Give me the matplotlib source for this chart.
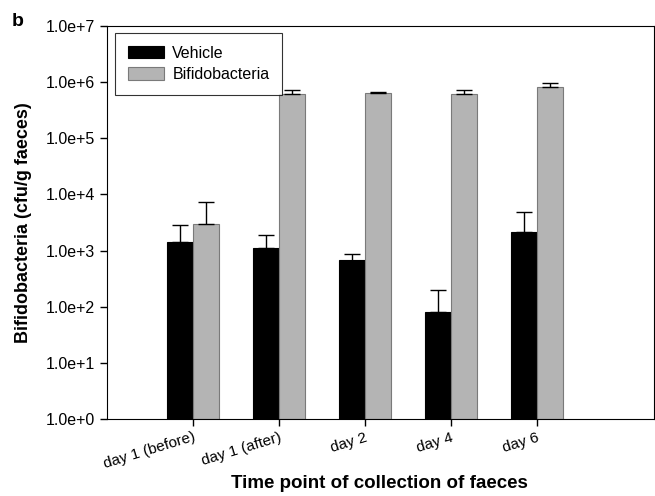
import numpy as np
import matplotlib.pyplot as plt

plt.rcParams['font.family'] = ['Liberation Sans', 'DejaVu Sans']

days = ['day 1 (before)', 'day 1 (after)', 'day 2', 'day 4', 'day 6']
vehicle = np.array([1430, 1090, 665, 81, 2170])
vehicle_top = np.array([2900, 1900, 885, 202, 4950])
bifido = np.array([2960, 605000, 640000, 620000, 805000])
bifido_top = np.array([7200, 733000, 655000, 733000, 948000])

fig = plt.figure(figsize=(6.55, 4.96), dpi=100)
ax = fig.add_axes([0.163, 0.155, 0.8355, 0.793])

x = np.arange(len(days))
w = 0.3
ax.bar(x - w/2, vehicle, w, bottom=1, color='black', edgecolor='black', linewidth=0.8,
       label='Vehicle')
ax.bar(x + w/2, bifido, w, bottom=1, color='#b4b4b4', edgecolor='#7a7a7a', linewidth=0.8,
       label='Bifidobacteria')
ax.errorbar(x - w/2, vehicle, yerr=[np.zeros(5), vehicle_top - vehicle], fmt='none',
            ecolor='black', elinewidth=1, capsize=5.5, capthick=1)
ax.errorbar(x + w/2, bifido, yerr=[np.zeros(5), bifido_top - bifido], fmt='none',
            ecolor='black', elinewidth=1, capsize=5.5, capthick=1)

ax.set_yscale('log')
ax.set_ylim(1, 1e7)
ax.set_xlim(-1, 5.36)
ax.set_yticks([10.0**k for k in range(8)])
ax.set_yticklabels(['1.0e+%d' % k for k in range(8)], fontsize=11.5)
ax.minorticks_off()
ax.set_xticks(x)
ax.set_xticklabels(days, rotation=17, ha='right', rotation_mode='anchor', fontsize=11)
ax.tick_params(direction='out', length=5, width=1)
ax.tick_params(axis='x', pad=3)

ax.set_ylabel('Bifidobacteria (cfu/g faeces)', fontsize=13, fontweight='bold', labelpad=10)
fig.text(0.58, 0.026, 'Time point of collection of faeces', fontsize=13.5,
         fontweight='bold', ha='center', va='center')
fig.text(0.018, 0.948, 'b', fontsize=14, fontweight='bold')

leg = ax.legend(loc='upper left', fontsize=11.5, frameon=True, fancybox=False,
                edgecolor='black', handlelength=2.3, handleheight=0.8,
                borderpad=0.8, labelspacing=0.4, handletextpad=0.5,
                borderaxespad=0, bbox_to_anchor=(0.0146, 0.982))
leg.get_frame().set_linewidth(0.8)

fig.savefig('out.png', dpi=100)
